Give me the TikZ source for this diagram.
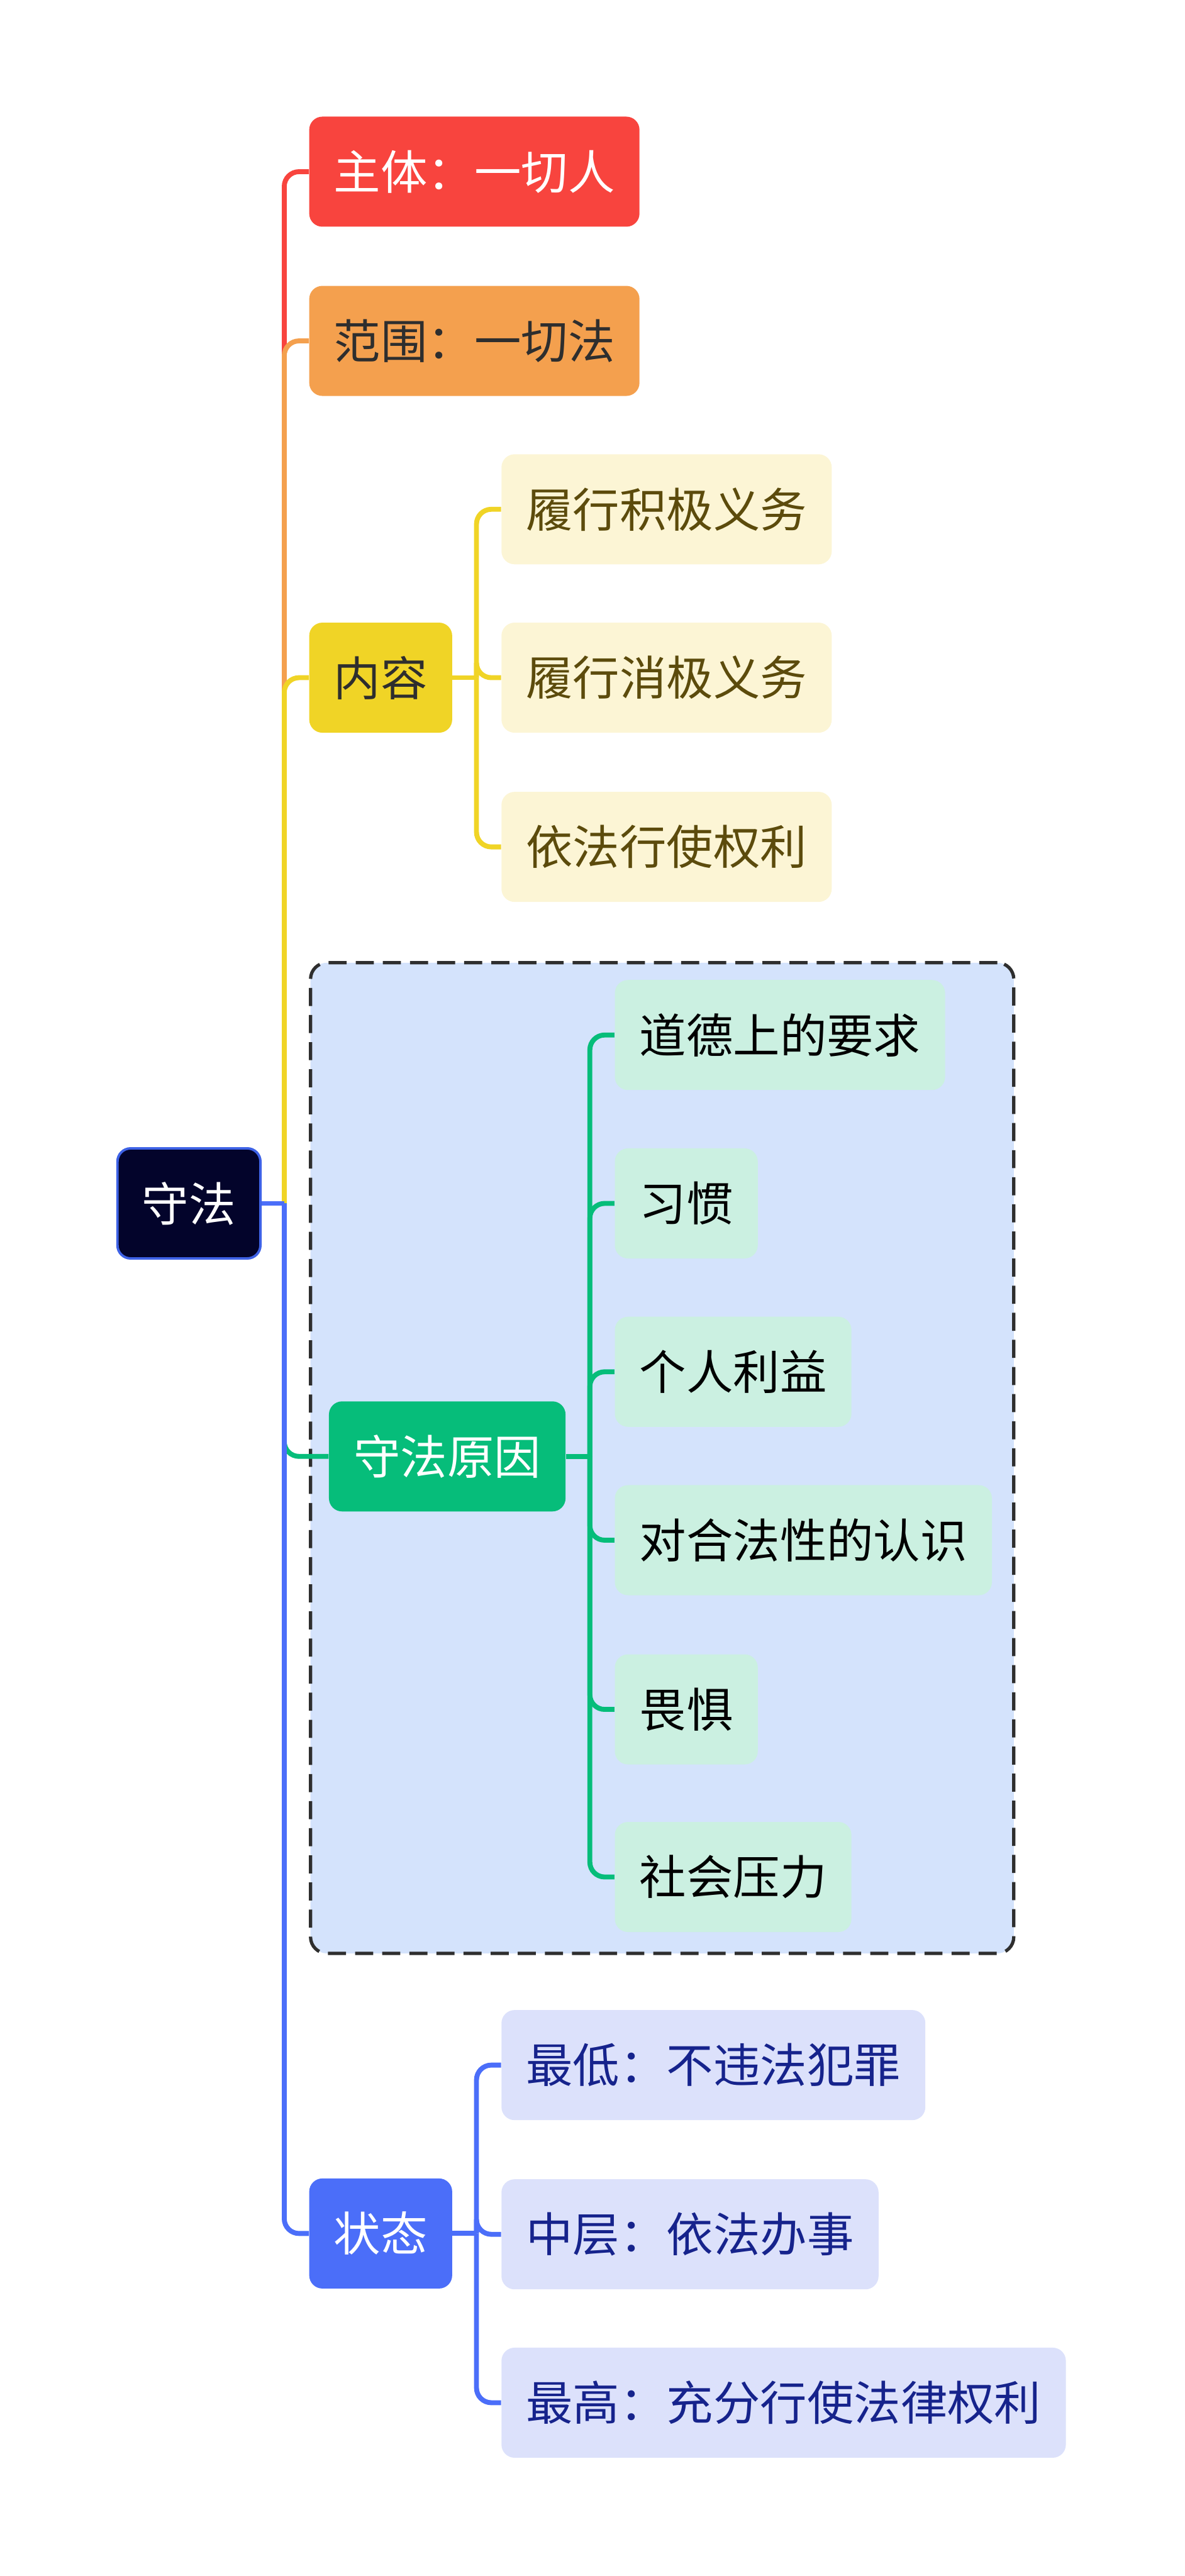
\documentclass[tikz,border=0pt]{standalone}
\usepackage{fontspec}
\setmainfont{Noto Sans CJK SC}
\usepackage{xcolor}
\usetikzlibrary{positioning, backgrounds}

\definecolor{rootfill}{HTML}{03042B}
\definecolor{rootline}{HTML}{3E62E6}
\definecolor{redc}{HTML}{F8443E}
\definecolor{orangec}{HTML}{F4A04E}
\definecolor{yellowc}{HTML}{F0D426}
\definecolor{yellowlt}{HTML}{FCF5D5}
\definecolor{yellowtx}{HTML}{5C4B0C}
\definecolor{greenc}{HTML}{06BD7A}
\definecolor{greenlt}{HTML}{CBF0E1}
\definecolor{bluec}{HTML}{4B6EF9}
\definecolor{bluelt}{HTML}{DCE1FB}
\definecolor{bluetx}{HTML}{16238C}
\definecolor{groupfill}{HTML}{D4E3FC}
\definecolor{darktx}{HTML}{2E2E2E}

\begin{document}
\begin{tikzpicture}[
    x=1bp, y=1bp,
    every node/.style={font=\fontsize{28.5bp}{34bp}\selectfont},
    topic/.style={rectangle, rounded corners=8bp, minimum height=67bp, inner xsep=15bp, inner ysep=0pt, anchor=west, fill=#1},
    topic/.default=bluelt,
    link/.style={line width=3bp, rounded corners=9bp, draw=#1},
    group/.style={draw=darktx, line width=2bp, dash pattern=on 11bp off 5.5bp, rounded corners=10bp, fill=groupfill},
]
    \useasboundingbox (0,0) rectangle (721,-1568);

    % central topic
    \node[topic=rootfill, anchor=center, minimum width=86bp, draw=rootline, line width=1.5bp, text=white] (root) at (115,-732.5) {守法};

    % main branches
    \node[topic=redc, text=white] (subject) at (188,-104.5) {主体：一切人};
    \node[topic=orangec, text=darktx] (scope) at (188,-207.5) {范围：一切法};
    \node[topic=yellowc, text=darktx] (content) at (188,-412.5) {内容};
    \node[topic=greenc, text=white] (reason) at (200,-886.5) {守法原因};
    \node[topic=bluec, text=white] (state) at (188,-1359.5) {状态};

    % content details
    \node[topic=yellowlt, text=yellowtx] (duty1) at (305,-310) {履行积极义务};
    \node[topic=yellowlt, text=yellowtx] (duty2) at (305,-412.5) {履行消极义务};
    \node[topic=yellowlt, text=yellowtx] (duty3) at (305,-515.5) {依法行使权利};

    % reasons
    \node[topic=greenlt] (why1) at (374,-630) {道德上的要求};
    \node[topic=greenlt] (why2) at (374,-732.5) {习惯};
    \node[topic=greenlt] (why3) at (374,-835) {个人利益};
    \node[topic=greenlt] (why4) at (374,-937.5) {对合法性的认识};
    \node[topic=greenlt] (why5) at (374,-1040.5) {畏惧};
    \node[topic=greenlt] (why6) at (374,-1142.5) {社会压力};

    % states
    \node[topic, text=bluetx] (lvl1) at (305,-1257) {最低：不违法犯罪};
    \node[topic, text=bluetx] (lvl2) at (305,-1360) {中层：依法办事};
    \node[topic, text=bluetx] (lvl3) at (305,-1462.5) {最高：充分行使法律权利};

    \coordinate (trunk) at (173,-732.5);
    \coordinate (cbus) at (290,-412.5);
    \coordinate (rbus) at (359,-886.5);
    \coordinate (sbus) at (290,-1359.5);

    \begin{scope}[on background layer]
        \node[group, minimum width=428bp, minimum height=603bp, anchor=north west] (box) at (188,-585) {};

        \draw[link=redc] (trunk) |- (subject.west);
        \draw[link=orangec] (trunk) |- (scope.west);
        \draw[link=yellowc] (trunk) |- (content.west);
        \draw[link=greenc] (trunk) |- (reason.west);
        \draw[link=bluec] (trunk) |- (state.west);
        \draw[link=bluec, rounded corners=0pt] (root.east) -- (trunk);

        \draw[link=yellowc] (content.east) -- (cbus);
        \foreach \n in {duty1, duty2, duty3}
            \draw[link=yellowc] (cbus) |- (\n.west);

        \draw[link=greenc] (reason.east) -- (rbus);
        \foreach \n in {why1, why2, why3, why4, why5, why6}
            \draw[link=greenc] (rbus) |- (\n.west);

        \draw[link=bluec] (state.east) -- (sbus);
        \foreach \n in {lvl1, lvl2, lvl3}
            \draw[link=bluec] (sbus) |- (\n.west);
    \end{scope}
\end{tikzpicture}
\end{document}
